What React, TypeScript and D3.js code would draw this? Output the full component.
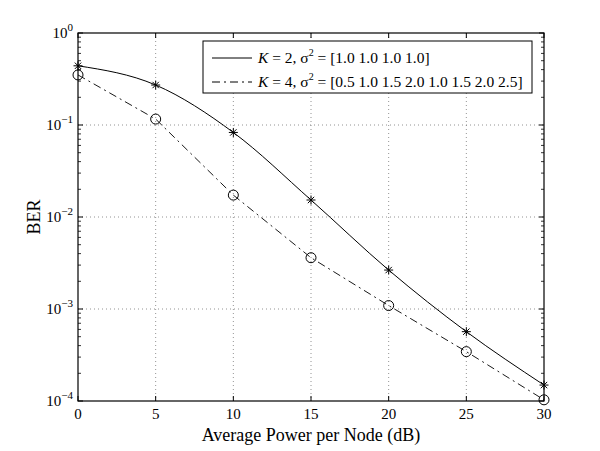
import React, { useEffect, useRef } from 'react';
import * as d3 from 'd3';

const powerDb = [0, 5, 10, 15, 20, 25, 30];
const berK2 = [0.44, 0.272, 0.083, 0.0153, 0.00265, 0.000567, 0.000149];
const berK4 = [0.35, 0.116, 0.0173, 0.00361, 0.00109, 0.000344, 0.000103];
const xTicks = [0, 5, 10, 15, 20, 25, 30];
const yExps = [0, -1, -2, -3, -4];
const legendLabels = [
  { k: '2', sig: '[1.0 1.0 1.0 1.0]' },
  { k: '4', sig: '[0.5 1.0 1.5 2.0 1.0 1.5 2.0 2.5]' },
];

const App = () => {
  const svgRef = useRef<SVGSVGElement>(null);

  useEffect(() => {
    const svg = d3.select(svgRef.current);
    svg.selectAll('*').remove();

    const width = 600;
    const height = 451;
    const margin = { top: 33, right: 56, bottom: 50, left: 78 };
    const innerWidth = width - margin.left - margin.right;
    const innerHeight = height - margin.top - margin.bottom;
    const font = '"Liberation Serif", "Times New Roman", serif';

    const x = d3.scaleLinear().domain([0, 30]).range([0, innerWidth]);
    const y = d3.scaleLog().domain([1e-4, 1]).range([innerHeight, 0]);

    svg.append('rect').attr('width', width).attr('height', height).attr('fill', '#fff');

    const g = svg.append('g').attr('transform', `translate(${margin.left},${margin.top})`);

    // grid
    xTicks.slice(1, -1).forEach(t => {
      g.append('line')
        .attr('x1', x(t)).attr('x2', x(t))
        .attr('y1', 0).attr('y2', innerHeight)
        .attr('stroke', '#777').attr('stroke-width', 0.8)
        .attr('stroke-dasharray', '1,3');
    });
    yExps.slice(1, -1).forEach(e => {
      g.append('line')
        .attr('x1', 0).attr('x2', innerWidth)
        .attr('y1', y(Math.pow(10, e))).attr('y2', y(Math.pow(10, e)))
        .attr('stroke', '#777').attr('stroke-width', 0.8)
        .attr('stroke-dasharray', '1,3');
    });

    // ticks
    const tickLen = 5;
    const minorLen = 3;
    xTicks.forEach(t => {
      g.append('line').attr('x1', x(t)).attr('x2', x(t)).attr('y1', innerHeight).attr('y2', innerHeight - tickLen).attr('stroke', '#000');
      g.append('line').attr('x1', x(t)).attr('x2', x(t)).attr('y1', 0).attr('y2', tickLen).attr('stroke', '#000');
      g.append('text')
        .attr('x', x(t)).attr('y', innerHeight + 18)
        .attr('text-anchor', 'middle')
        .attr('font-family', font).attr('font-size', 15)
        .text(t);
    });
    for (let e = -4; e < 0; e++) {
      for (let m = 2; m <= 9; m++) {
        const v = m * Math.pow(10, e);
        [[0, minorLen], [innerWidth, innerWidth - minorLen]].forEach(([a, b]) => {
          g.append('line').attr('x1', a).attr('x2', b).attr('y1', y(v)).attr('y2', y(v)).attr('stroke', '#000').attr('stroke-width', 0.8);
        });
      }
    }
    yExps.forEach(e => {
      const yy = y(Math.pow(10, e));
      g.append('line').attr('x1', 0).attr('x2', tickLen).attr('y1', yy).attr('y2', yy).attr('stroke', '#000');
      g.append('line').attr('x1', innerWidth).attr('x2', innerWidth - tickLen).attr('y1', yy).attr('y2', yy).attr('stroke', '#000');
      const t = g.append('text')
        .attr('x', -5).attr('y', yy + 5)
        .attr('text-anchor', 'end')
        .attr('font-family', font).attr('font-size', 15);
      t.append('tspan').text('10');
      t.append('tspan').attr('dy', -7).attr('font-size', 11).text(e === 0 ? '0' : '\u2212' + Math.abs(e));
    });

    // frame
    g.append('rect')
      .attr('width', innerWidth).attr('height', innerHeight)
      .attr('fill', 'none').attr('stroke', '#000').attr('stroke-width', 1.2);

    // series
    const pts = (vals: number[]) => powerDb.map((p, i) => [x(p), y(vals[i])] as [number, number]);
    const smooth = d3.line().curve(d3.curveMonotoneX);
    const straight = d3.line();

    g.append('path')
      .attr('d', smooth(pts(berK2)))
      .attr('fill', 'none').attr('stroke', '#000').attr('stroke-width', 1);
    g.append('path')
      .attr('d', straight(pts(berK4)))
      .attr('fill', 'none').attr('stroke', '#000').attr('stroke-width', 0.9)
      .attr('stroke-dasharray', '8,4,2,4');

    const star = (sel: any, cx: number, cy: number) => {
      const r = 4.5;
      [0, 45, 90, 135].forEach(a => {
        const rad = (a * Math.PI) / 180;
        sel.append('line')
          .attr('x1', cx - r * Math.cos(rad)).attr('x2', cx + r * Math.cos(rad))
          .attr('y1', cy - r * Math.sin(rad)).attr('y2', cy + r * Math.sin(rad))
          .attr('stroke', '#000').attr('stroke-width', 1);
      });
    };
    pts(berK2).forEach(([cx, cy]) => star(g, cx, cy));
    pts(berK4).forEach(([cx, cy]) => {
      g.append('circle').attr('cx', cx).attr('cy', cy).attr('r', 5)
        .attr('fill', 'none').attr('stroke', '#000').attr('stroke-width', 1);
    });

    // legend
    const lx = 125;
    const ly = 8;
    const legend = g.append('g').attr('transform', `translate(${lx},${ly})`);
    legend.append('rect')
      .attr('width', 329).attr('height', 52)
      .attr('fill', '#fff').attr('stroke', '#000').attr('stroke-width', 1);
    legendLabels.forEach((d, i) => {
      const ry = 17 + i * 24;
      legend.append('line')
        .attr('x1', 9).attr('x2', 49).attr('y1', ry).attr('y2', ry)
        .attr('stroke', '#000').attr('stroke-width', 1)
        .attr('stroke-dasharray', i === 0 ? null : '8,4,2,4');
      const t = legend.append('text')
        .attr('x', 55).attr('y', ry + 5)
        .attr('font-family', font).attr('font-size', 15.5);
      t.append('tspan').attr('font-style', 'italic').text('K');
      t.append('tspan').text(` = ${d.k}, \u03c3`);
      t.append('tspan').attr('dy', -7).attr('font-size', 10).text('2');
      t.append('tspan').attr('dy', 7).text(` = ${d.sig}`);
    });

    // axis labels
    svg.append('text')
      .attr('x', margin.left + innerWidth / 2).attr('y', height - 10)
      .attr('text-anchor', 'middle')
      .attr('font-family', font).attr('font-size', 18)
      .text('Average Power per Node (dB)');
    svg.append('text')
      .attr('transform', `translate(40,${margin.top + innerHeight / 2}) rotate(-90)`)
      .attr('text-anchor', 'middle')
      .attr('font-family', font).attr('font-size', 18)
      .text('BER');
  }, []);

  return <svg ref={svgRef} width="600" height="451" style={{ display: 'block', position: 'absolute', left: 0, top: 0 }}></svg>;
};

export default App;
